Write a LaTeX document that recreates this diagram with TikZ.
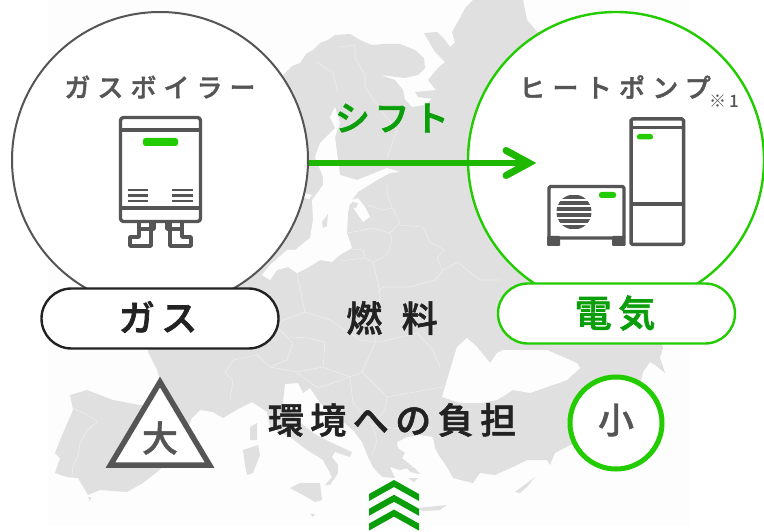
\documentclass[tikz,border=0pt]{standalone}
\usepackage{fontspec}
\newfontfamily\jp{Noto Sans CJK JP Medium}
\definecolor{land}{HTML}{E0E0E0}
\definecolor{sea}{HTML}{FDFDFD}
\definecolor{bord}{HTML}{EDEDED}
\definecolor{gry}{HTML}{555555}
\definecolor{ink}{HTML}{222222}
\definecolor{lime}{HTML}{22CC00}
\definecolor{leaf}{HTML}{0A9E0A}
\definecolor{arrowg}{HTML}{1FB800}
\newcommand{\jf}[3]{\jp\fontsize{#1}{#1}\selectfont\addfontfeature{LetterSpace=#2,FakeBold=#3}}
\tikzset{
  landfill/.style={fill=land,draw=none},
  seafill/.style={fill=sea,draw=none},
  bline/.style={draw=bord,line width=0.6pt,line join=round},
  bigcircle/.style={circle,fill=white,inner sep=0pt,minimum size=296pt},
  pill/.style={rounded corners=30pt,fill=white,line width=2.4pt,minimum width=237pt,minimum height=60pt,inner sep=0pt},
  icon/.style={draw=gry,line width=3.4pt,line join=round},
  lamp/.style={fill=lime,draw=none,rounded corners=2.5pt},
  chev/.style={fill=leaf,draw=none},
  lbl/.style={inner sep=0pt,anchor=center}
}
\begin{document}
\begin{tikzpicture}[x=1pt,y=-1pt]
\useasboundingbox (0,0) rectangle (764,532);
\fill[white] (0,0) rectangle (764,532);
\fill[sea] (48,0) rectangle (690,525);
% mainland
\path[landfill] (283,75)--(292,66)--(300,63)--(306,54)--(313,50)--(320,43)--(328,40)--(335,35)--(350,34)--(360,40)--(372,45)--(385,44)--(400,44)--(415,50)--(424,58)--(425,68)--(418,75)--(405,78)--(380,75)--(395,80)--(403,90)--(405,100)--(412,107)--(425,105)--(432,99)--(418,97)--(415,92)--(436,90)--(428,80)--(438,68)--(445,62)--(435,52)--(428,40)--(424,33)--(437,32)--(445,40)--(450,47)--(455,42)--(452,32)--(460,18)--(465,8)--(473,0)--(523,0)--(527,20)--(540,35)--(600,100)--(650,300)--(663,348)--(660,358)--(665,373)--(655,365)--(650,362)--(643,372)--(640,385)--(620,440)--(570,445)--(555,453)--(550,465)--(547,460)--(527,460)--(513,467)--(495,475)--(480,473)--(473,483)--(453,478)--(447,467)--(440,457)--(435,448)--(433,437)--(420,435)--(407,437)--(397,442)--(398,448)--(405,453)--(402,458)--(413,467)--(400,470)--(390,467)--(395,478)--(383,477)--(378,473)--(373,467)--(368,457)--(362,442)--(353,430)--(337,417)--(320,403)--(310,388)--(303,393)--(298,383)--(285,384)--(283,403)--(297,420)--(313,433)--(330,442)--(352,452)--(350,457)--(335,452)--(332,457)--(338,465)--(338,473)--(330,485)--(325,485)--(332,477)--(323,460)--(307,450)--(290,437)--(270,427)--(267,412)--(252,402)--(240,408)--(223,418)--(213,412)--(200,410)--(192,418)--(187,430)--(170,460)--(157,472)--(143,483)--(127,492)--(100,490)--(88,495)--(78,478)--(67,477)--(55,473)--(60,458)--(55,453)--(60,440)--(73,410)--(70,395)--(87,390)--(113,400)--(140,405)--(150,405)--(160,380)--(157,370)--(148,352)--(160,280)--(200,150)--(270,120)--cycle;
% Baltic
\path[seafill] (335,107)--(330,117)--(335,128)--(320,143)--(315,157)--(323,177)--(323,185)--(312,200)--(313,220)--(310,238)--(295,250)--(287,250)--(270,265)--(262,275)--(270,280)--(277,270)--(288,267)--(297,273)--(307,268)--(320,260)--(332,262)--(340,255)--(352,248)--(347,233)--(348,213)--(350,203)--(363,222)--(370,217)--(365,207)--(358,198)--(352,200)--(358,192)--(377,180)--(390,173)--(400,172)--(387,168)--(357,180)--(340,175)--(338,160)--(335,137)--(340,123)--cycle;
\path[landfill] (322,222)--(328,214)--(327,226)--(323,228)--cycle;
\path[landfill] (352,202)--(358,203)--(356,208)--(350,207)--cycle;
\path[seafill] (300,192)--(312,195)--(309,199)--(298,196)--cycle;
\path[seafill] (295,258)--(300,252)--(302,258)--cycle;
% Black Sea
\path[seafill] (442,397)--(447,380)--(450,370)--(457,347)--(467,338)--(477,347)--(490,363)--(497,353)--(503,350)--(547,350)--(577,363)--(580,368)--(567,380)--(547,387)--(530,393)--(513,390)--(497,400)--(480,403)--(460,403)--cycle;
% islands
\path[landfill] (250,427)--(257,423)--(257,440)--(250,440)--cycle;
\path[landfill] (243,450)--(258,445)--(260,455)--(253,473)--(247,475)--(245,465)--cycle;
\path[landfill] (290,488)--(300,483)--(320,483)--(322,500)--(315,502)--(303,495)--cycle;
\path[landfill] (417,508)--(447,505)--(440,510)--(423,511)--cycle;
\path[landfill] (515,492)--(535,477)--(527,487)--(520,493)--cycle;
\path[landfill] (88,497)--(91,497)--(90,501)--cycle;
\path[landfill] (310,514)--(315,514)--(313,517)--cycle;
\path[landfill] (405,465)--(415,468)--(420,474)--(410,472)--cycle;
\path[landfill] (408,478)--(418,478)--(414,482)--cycle;
% borders
\draw[bline] (317,62)--(333,73)--(338,93);
\draw[bline] (340,47)--(355,45)--(355,58)--(365,75)--(365,87)--(383,113)--(397,130)--(387,158);
\draw[bline] (387,183)--(387,193)--(392,207)--(400,223)--(390,233);
\draw[bline] (368,205)--(383,210)--(392,208);
\draw[bline] (348,233)--(373,228)--(390,233)--(392,240)--(387,255)--(373,262)--(365,258)--(363,250)--(352,249);
\draw[bline] (365,258)--(340,261);
\draw[bline] (400,225)--(423,227)--(430,242)--(445,250)--(437,258)--(443,270)--(435,280)--(410,287)--(383,287)--(378,293);
\draw[bline] (373,262)--(378,283)--(380,293);
\draw[bline] (443,270)--(458,262)--(467,270)--(480,280)--(500,280);
\draw[bline] (297,273)--(303,303)--(305,312)--(283,320)--(277,327)--(293,343)--(287,360)--(270,367)--(257,355)--(233,360)--(225,373)--(233,380)--(230,400);
\draw[bline] (305,312)--(330,320)--(360,340)--(380,342)--(417,333)--(433,350)--(440,367);
\draw[bline] (380,293)--(378,320)--(375,343)--(362,372)--(350,377)--(323,367)--(297,372)--(270,367);
\draw[bline] (290,337)--(308,338)--(325,342)--(323,367);
\draw[bline] (362,372)--(387,397)--(443,387);
\draw[bline] (297,373)--(318,388)--(350,377)--(353,403)--(372,425)--(377,440)--(372,455);
\draw[bline] (372,425)--(407,430)--(433,427);
\draw[bline] (387,397)--(385,410)--(372,425);
\draw[bline] (73,408)--(93,418)--(97,422)--(87,430)--(80,443)--(78,457)--(73,465)--(72,477);
% circles
\node[bigcircle,draw=gry,line width=2pt] (gas) at (160,160) {};
\node[bigcircle,draw=lime,line width=2.4pt] (pump) at (616,160) {};
% arrow
\coordinate (tip) at (529,163);
\coordinate (barbA) at (506,150.5);
\coordinate (barbB) at (506,175.5);
\draw[arrowg,line width=5.5pt] (gas.east |- tip) -- (tip);
\draw[arrowg,line width=7pt,line cap=round,miter limit=10] (barbA) -- (tip) -- (barbB);
\node[lbl,text=leaf,font=\jf{35}{13}{2}] (shift) at (392,118) {シフト};
% boiler
\node[lbl,text=gry,font=\jf{26}{27}{1.5}] (t1) at (160,87) {ガスボイラー};
\draw[icon,rounded corners=3pt] (120.5,117.5) rectangle (200.5,221.5);
\draw[icon] (120.5,130)--(200.5,130);
\draw[icon] (120.5,208)--(200.5,208);
\fill[lamp] (143,138) rectangle (178,146);
\foreach \yy in {190,195.5,201}{
  \draw[gry,line width=2.5pt] (128,\yy)--(148,\yy);
  \draw[gry,line width=2.5pt] (172,\yy)--(193,\yy);
}
\draw[icon] (139,222)--(139,237)--(130,237)--(130,246)--(151,246)--(151,222);
\draw[icon] (138,229)--(154,229)--(154,222);
\draw[icon] (182,222)--(182,237)--(191,237)--(191,246)--(170,246)--(170,222);
\draw[icon] (183,229)--(167,229)--(167,222);
% heat pump
\node[lbl,text=gry,font=\jf{26}{28}{1.5}] (t2) at (615,87) {ヒートポンプ};
\node[lbl,text=gry,font=\jp\fontsize{17}{17}\selectfont] (note) at (724,101) {※\,1};
\draw[icon,line width=3.5pt,rounded corners=1.5pt] (631,119) rectangle (683.5,244.5);
\draw[icon,line width=3.5pt] (631,127.5)--(683.5,127.5);
\draw[icon,line width=3.5pt] (631,204)--(683.5,204);
\fill[lamp] (637,134) rectangle (653,139.5);
\draw[icon,rounded corners=1.5pt] (549,186.5) rectangle (624,238);
\fill[gry,rounded corners=1pt] (547,236) rectangle (560,246);
\fill[gry,rounded corners=1pt] (612,236) rectangle (625.5,246);
\fill[lamp] (599,192) rectangle (616,198);
\begin{scope}
  \clip (574,212) circle (17.5);
  \foreach \yy in {195.5,201.5,207.5,213.5,219.5,225.5}{
    \fill[gry] (556,\yy) rectangle (592,\yy+3.6);
  }
\end{scope}
% pills
\node[pill,draw=ink] (gp) at (160,318.5) {};
\node[pill,draw=lime] (ep) at (616.5,313.5) {};
\node[lbl,text=ink,font=\jf{36}{18}{2}] (gt) at (158,317) {ガス};
\node[lbl,text=leaf,font=\jf{37}{18}{2}] (et) at (615,313) {電気};
\node[lbl,text=ink,font=\jf{36}{54}{1.5}] (fuel) at (392,318) {燃料};
\node[lbl,text=ink,font=\jf{36}{18}{1.5}] (env) at (392,420) {環境への負担};
% triangle
\path[fill=white,draw=gry,line width=5.5pt,line join=miter] (160,382)--(209.5,465)--(110.5,465)--cycle;
\node[lbl,text=gry,font=\jf{36}{0}{1}] (big) at (160,438) {大};
% small circle
\node[circle,draw=lime,line width=5pt,fill=white,minimum size=92pt,inner sep=0pt] (sm) at (616,423) {};
\node[lbl,text=gry,font=\jf{36}{0}{1}] at (616,420) (small) {小};
% chevrons
\foreach \dy in {0,14.8,29.6}{
  \path[chev] (369,494+\dy)--(394,480+\dy)--(419,494+\dy)--(419,501+\dy)--(394,487+\dy)--(369,501+\dy)--cycle;
}
\end{tikzpicture}
\end{document}
